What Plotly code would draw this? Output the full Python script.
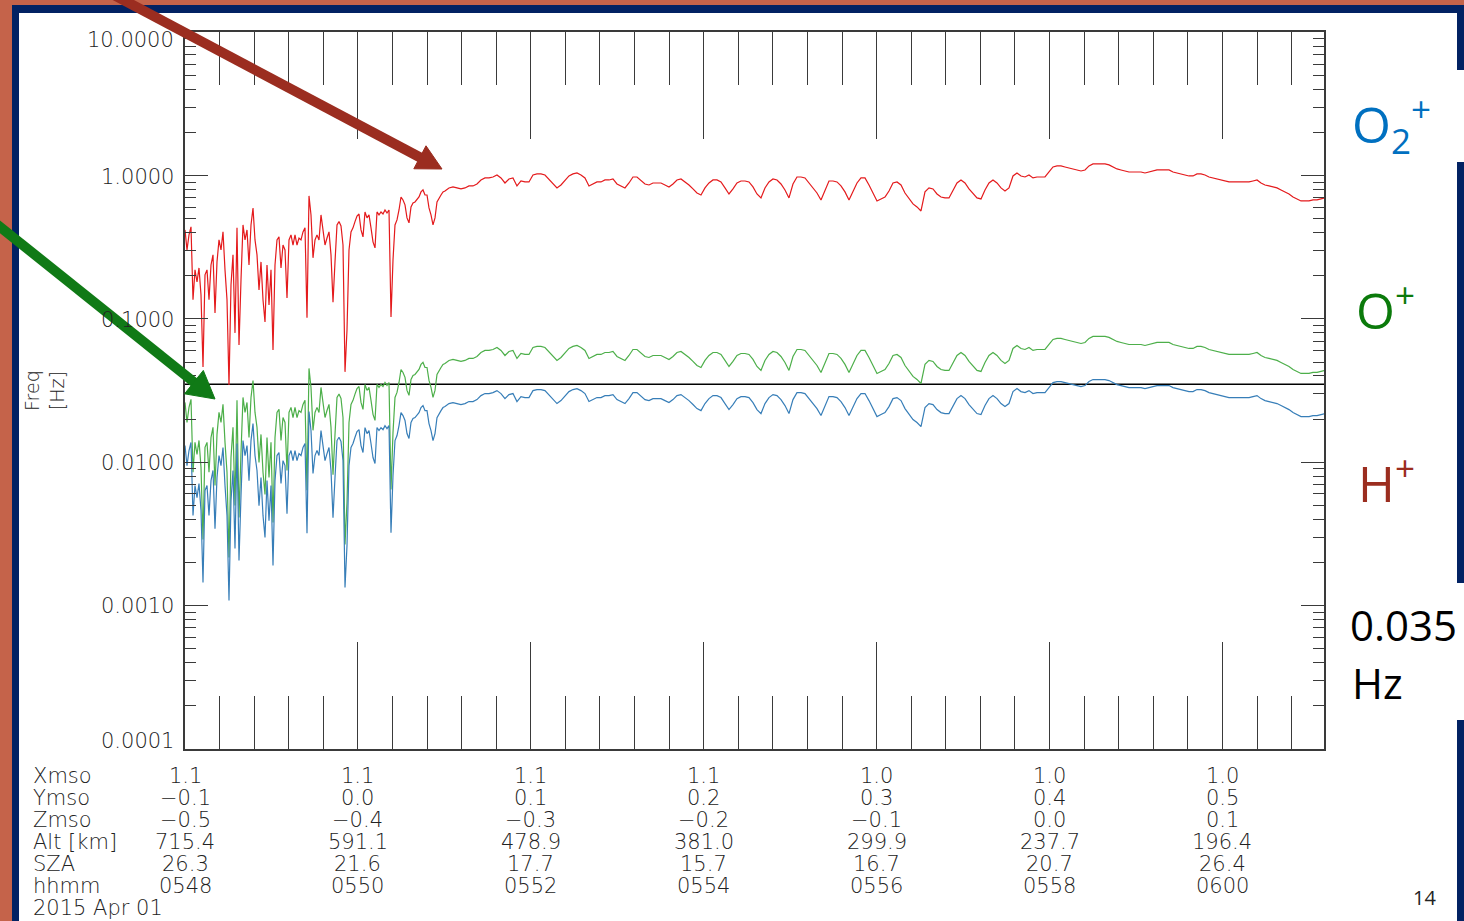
import numpy as np
import plotly.graph_objects as go

# ---------------- data ----------------
# H+ gyro-frequency [Hz]; time in seconds after 2015-04-01 05:48:00
SEG1_T0, SEG1_T1 = 0.0, 180.45
H_PLUS_SEG1 = [
    0.418, 0.303, 0.386, 0.439, 0.136, 0.220, 0.181, 0.227, 0.147, 0.0462,
    0.203, 0.220, 0.136, 0.238, 0.280, 0.110, 0.250, 0.356, 0.303, 0.405,
    0.220, 0.136, 0.0346, 0.173, 0.280, 0.0799, 0.432, 0.0659, 0.187, 0.453,
    0.356, 0.418, 0.238, 0.453, 0.595, 0.356, 0.280, 0.159, 0.250, 0.136,
    0.0953, 0.238, 0.125, 0.220, 0.0608, 0.238, 0.356, 0.374, 0.227, 0.328,
    0.303, 0.140, 0.356, 0.386, 0.328, 0.386, 0.328, 0.367, 0.356, 0.405,
    0.432, 0.102, 0.722, 0.532, 0.267, 0.356, 0.386, 0.356, 0.532, 0.432,
    0.328, 0.367, 0.405, 0.280, 0.131, 0.250, 0.453, 0.478, 0.446, 0.328,
    0.0427, 0.0838, 0.303, 0.405, 0.432, 0.478, 0.523, 0.540, 0.418, 0.374,
    0.558, 0.507, 0.532, 0.432, 0.345, 0.313, 0.558, 0.532, 0.558, 0.540,
    0.576, 0.549, 0.576, 0.103, 0.258, 0.453, 0.491, 0.576, 0.710, 0.677,
    0.625, 0.507, 0.468, 0.605, 0.645, 0.655, 0.677, 0.710, 0.770, 0.795,
    0.733, 0.733, 0.595, 0.532, 0.453, 0.507, 0.655, 0.699, 0.733, 0.770,
    0.782,
]
SEG2_T0, SEG2_T1 = 183.2, 791.2
H_PLUS_SEG2 = [
    0.821, 0.834, 0.821, 0.808, 0.821, 0.848, 0.848, 0.875, 0.933, 0.964,
    0.964, 0.979, 1.011, 0.964, 0.889, 0.948, 0.964, 0.848, 0.918, 0.904,
    0.904, 1.011, 1.028, 1.028, 1.011, 0.948, 0.875, 0.821, 0.861, 0.933,
    0.995, 1.028, 1.044, 1.011, 0.964, 0.848, 0.875, 0.904, 0.904, 0.933,
    0.933, 0.948, 0.875, 0.848, 0.821, 0.889, 0.979, 0.979, 0.918, 0.875,
    0.861, 0.889, 0.889, 0.889, 0.861, 0.834, 0.875, 0.933, 0.948, 0.904,
    0.861, 0.808, 0.757, 0.733, 0.821, 0.889, 0.933, 0.933, 0.904, 0.821,
    0.745, 0.808, 0.889, 0.918, 0.918, 0.904, 0.834, 0.745, 0.699, 0.821,
    0.904, 0.948, 0.933, 0.875, 0.795, 0.699, 0.875, 0.979, 0.979, 0.964,
    0.889, 0.821, 0.757, 0.677, 0.795, 0.918, 0.918, 0.904, 0.848, 0.770,
    0.677, 0.770, 0.889, 0.964, 0.964, 0.861, 0.757, 0.666, 0.688, 0.710,
    0.782, 0.889, 0.904, 0.861, 0.757, 0.688, 0.635, 0.605, 0.567, 0.770,
    0.821, 0.808, 0.745, 0.710, 0.699, 0.699, 0.782, 0.889, 0.933, 0.889,
    0.808, 0.745, 0.699, 0.688, 0.795, 0.889, 0.933, 0.889, 0.821, 0.782,
    0.821, 0.995, 1.044, 0.995, 0.979, 1.011, 0.964, 0.979, 0.979, 0.979,
    1.061, 1.150, 1.169, 1.169, 1.150, 1.132, 1.114, 1.096, 1.078, 1.096,
    1.169, 1.207, 1.207, 1.207, 1.207, 1.188, 1.150, 1.114, 1.096, 1.078,
    1.061, 1.061, 1.061, 1.061, 1.044, 1.061, 1.078, 1.096, 1.096, 1.096,
    1.096, 1.061, 1.044, 1.028, 1.011, 0.995, 0.995, 1.028, 1.028, 1.011,
    0.979, 0.964, 0.948, 0.933, 0.918, 0.904, 0.904, 0.904, 0.904, 0.904,
    0.904, 0.918, 0.933, 0.889, 0.861, 0.848, 0.834, 0.821, 0.795, 0.770,
    0.745, 0.710, 0.688, 0.666, 0.666, 0.666, 0.677, 0.677, 0.688, 0.699,
]
# gyro-frequency scales as 1/ion mass (amu)
ION_NAMES = ["H+", "O+", "O2+"]
ION_MASS = [1, 16, 32]
ION_COLORS = ["#E41A1C", "#4DAF4A", "#377EB8"]
REF_FREQ = 0.035

X_RANGE_S = [0, 790.5]
Y_TICK_VALUES = [10, 1, 0.1, 0.01, 0.001, 0.0001]
Y_TICK_LABELS = ["10.0000", "1.0000", "0.1000", "0.0100", "0.0010", "0.0001"]

ROW_NAMES = ["Xmso", "Ymso", "Zmso", "Alt [km]", "SZA", "hhmm"]
ROW_TIMES = [0, 120, 240, 360, 480, 600, 720]
XMSO = ["1.1", "1.1", "1.1", "1.1", "1.0", "1.0", "1.0"]
YMSO = ["\u22120.1", "0.0", "0.1", "0.2", "0.3", "0.4", "0.5"]
ZMSO = ["\u22120.5", "\u22120.4", "\u22120.3", "\u22120.2", "\u22120.1", "0.0", "0.1"]
ALT = ["715.4", "591.1", "478.9", "381.0", "299.9", "237.7", "196.4"]
SZA = ["26.3", "21.6", "17.7", "15.7", "16.7", "20.7", "26.4"]
HHMM = ["0548", "0550", "0552", "0554", "0556", "0558", "0600"]
DATE_TEXT = "2015 Apr 01"

# ---------------- figure ----------------
W, H = 1464, 921
def px(x):
    return x / W
def py(y):
    return 1 - y / H

t = np.concatenate([np.linspace(SEG1_T0, SEG1_T1, len(H_PLUS_SEG1)),
                    np.linspace(SEG2_T0, SEG2_T1, len(H_PLUS_SEG2))])
f_h = np.array(H_PLUS_SEG1 + H_PLUS_SEG2)

fig = go.Figure()
fig.add_trace(go.Scatter(x=X_RANGE_S, y=[REF_FREQ, REF_FREQ], mode="lines",
                         line=dict(color="black", width=1.3), showlegend=False,
                         hoverinfo="skip"))
for name, m, c in zip(ION_NAMES, ION_MASS, ION_COLORS):
    fig.add_trace(go.Scatter(x=t, y=f_h / m, mode="lines", name=name,
                             line=dict(color=c, width=1.2), showlegend=False))

TICK_COL = "#3a3a3a"
fig.update_xaxes(domain=[px(185), px(1324)], range=X_RANGE_S, showline=True,
                 linecolor=TICK_COL, linewidth=1.5, mirror="allticks",
                 ticks="inside", ticklen=107, tickwidth=1.3, tickcolor=TICK_COL,
                 tick0=0, dtick=120, showticklabels=False, showgrid=False,
                 zeroline=False,
                 minor=dict(ticks="inside", ticklen=53, tickwidth=1.3,
                            tickcolor=TICK_COL, dtick=24, tick0=0, showgrid=False))
minor_vals = [k * 10.0 ** e for e in range(-4, 1) for k in range(2, 10)]
fig.update_yaxes(type="log", domain=[py(748.7), py(32.4)], range=[-4, 1],
                 showline=True, linecolor=TICK_COL, linewidth=1.5, mirror="allticks",
                 ticks="inside", ticklen=23, tickwidth=1.3, tickcolor=TICK_COL,
                 tickmode="array", tickvals=Y_TICK_VALUES, showticklabels=False,
                 showgrid=False, zeroline=False,
                 minor=dict(ticks="inside", ticklen=11, tickwidth=1.3,
                            tickcolor=TICK_COL, tickmode="array",
                            tickvals=minor_vals, showgrid=False))

AX_FONT = dict(family="DejaVu Sans", size=21, color="#222222", weight=200)
ann = []
shift = {0: -8, 5: 8}
for i, (v, lab) in enumerate(zip(Y_TICK_VALUES, Y_TICK_LABELS)):
    ann.append(dict(x=px(176), xref="paper", y=np.log10(v), yref="y", text=lab,
                    xanchor="right", yanchor="middle", showarrow=False,
                    font=AX_FONT, yshift=shift.get(i, -1)))
ann.append(dict(x=px(45), y=py(391), xref="paper", yref="paper",
                text="Freq<br>[Hz]", textangle=-90, showarrow=False,
                font=dict(family="DejaVu Sans", size=19, color="#222222", weight=200),
                xanchor="center", yanchor="middle"))
rows = [XMSO, YMSO, ZMSO, ALT, SZA, HHMM]
for r, (nm, vals) in enumerate(zip(ROW_NAMES, rows)):
    yy = py(776 + 22 * r)
    ann.append(dict(x=px(31), y=yy, xref="paper", yref="paper", text=nm,
                    xanchor="left", yanchor="middle", showarrow=False, font=AX_FONT))
    for tt, v in zip(ROW_TIMES, vals):
        ann.append(dict(x=tt, y=yy, xref="x", yref="paper", text=v,
                        xanchor="center", yanchor="middle", showarrow=False,
                        font=AX_FONT))
ann.append(dict(x=px(31), y=py(908), xref="paper", yref="paper", text=DATE_TEXT,
                xanchor="left", yanchor="middle", showarrow=False, font=AX_FONT))

SLIDE_FONT = "Open Sans"
ann += [
    dict(x=px(1350), y=py(124), xref="paper", yref="paper",
         text="O<sub>2</sub><sup>+</sup>", xanchor="left", yanchor="middle",
         showarrow=False, font=dict(family=SLIDE_FONT, size=50, color="#0070C0")),
    dict(x=px(1354), y=py(308), xref="paper", yref="paper",
         text="O<sup>+</sup>", xanchor="left", yanchor="middle",
         showarrow=False, font=dict(family=SLIDE_FONT, size=50, color="#0B7A0B")),
    dict(x=px(1356), y=py(480), xref="paper", yref="paper",
         text="H<sup>+</sup>", xanchor="left", yanchor="middle",
         showarrow=False, font=dict(family=SLIDE_FONT, size=50, color="#9B2D1F")),
    dict(x=px(1348), y=py(624), xref="paper", yref="paper", text="0.035",
         xanchor="left", yanchor="middle", showarrow=False,
         font=dict(family=SLIDE_FONT, size=42, color="black")),
    dict(x=px(1350), y=py(682), xref="paper", yref="paper", text="Hz",
         xanchor="left", yanchor="middle", showarrow=False,
         font=dict(family=SLIDE_FONT, size=42, color="black")),
    dict(x=px(1438), y=py(897), xref="paper", yref="paper", text="14",
         xanchor="right", yanchor="middle", showarrow=False,
         font=dict(family=SLIDE_FONT, size=20, color="#222222")),
]

def rect(x0, y0, x1, y1, color, layer="below"):
    return dict(type="rect", xref="paper", yref="paper", x0=px(x0), x1=px(x1),
                y0=py(y1), y1=py(y0), fillcolor=color, line=dict(width=0),
                layer=layer)

def arrow(sx, sy, tx, ty, head_len, head_w, width, color):
    d = np.array([tx - sx, ty - sy], float)
    u = d / np.linalg.norm(d)
    n = np.array([-u[1], u[0]])
    b = np.array([tx, ty]) - head_len * u
    c1 = b + head_w / 2 * n
    c2 = b - head_w / 2 * n
    shaft_end = b + 2 * u
    pts = [(tx, ty), tuple(c1), tuple(c2)]
    path = "M " + " L ".join(f"{px(p[0])},{py(p[1])}" for p in pts) + " Z"
    return [
        dict(type="line", xref="paper", yref="paper", x0=px(sx), y0=py(sy),
             x1=px(shaft_end[0]), y1=py(shaft_end[1]),
             line=dict(color=color, width=width), layer="above"),
        dict(type="path", xref="paper", yref="paper", path=path,
             fillcolor=color, line=dict(color=color, width=1), layer="above"),
    ]

shapes = [
    rect(12, 5, 1470, 930, "#022263"),
    rect(19, 13, 1457, 930, "white"),
    rect(1440, 70, 1470, 162, "white"),
    rect(1440, 583, 1470, 720, "white"),
]
shapes += arrow(112, -6, 442, 169, 25, 26, 10, "#9B2D20")
shapes += arrow(-6, 222, 215, 399, 27, 30, 10, "#107A16")

fig.update_layout(width=W, height=H, margin=dict(l=0, r=0, t=0, b=0),
                  autosize=False, paper_bgcolor="#C5634A",
                  plot_bgcolor="rgba(0,0,0,0)", showlegend=False,
                  annotations=ann, shapes=shapes)
fig.write_html("out.html")
